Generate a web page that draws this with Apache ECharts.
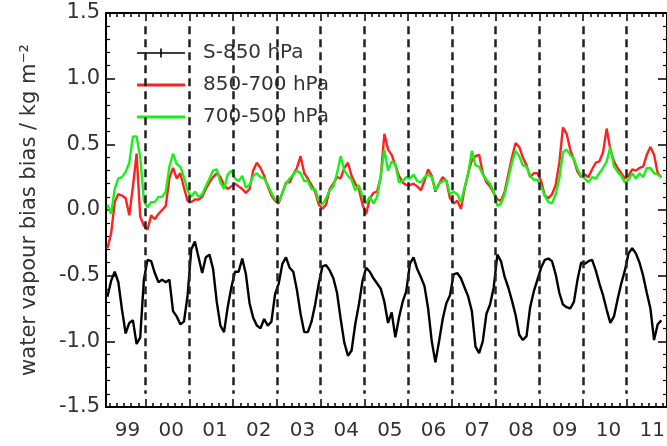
<!DOCTYPE html>
<html>
<head>
<meta charset="utf-8">
<script src="https://cdn.jsdelivr.net/npm/echarts@6/dist/echarts.min.js"></script>
<style>
html, body { margin: 0; background: #fff; }
#chart { width: 667px; height: 446px; }
</style>
</head>
<body>
<div id="chart"></div>
<script>
// x is months since Jan 1999; one sample per month, Feb 1999 .. Oct 2011 (mid-month)
const months = []
for (let m = 1; m <= 153; m++) months.push(m + 0.5)

const yearTicks = [12, 24, 36, 48, 60, 72, 84, 96, 108, 120, 132, 144]
const yearLabelPos = [7, 19, 31, 43, 55, 67, 79, 91, 103, 115, 127, 139, 151]
const yearLabels = ['99', '00', '01', '02', '03', '04', '05', '06', '07', '08', '09', '10', '11']
const minorTicks = []
for (let m = 2; m <= 154; m += 2) minorTicks.push(m)

// S-850 hPa
const s850 = [
  -0.66, -0.54, -0.47, -0.55, -0.76, -0.94, -0.86, -0.84, -1.02, -0.97,
  -0.53, -0.38, -0.39, -0.48, -0.55, -0.53, -0.55, -0.53, -0.77, -0.81,
  -0.87, -0.85, -0.65, -0.30, -0.24, -0.36, -0.48, -0.36, -0.34, -0.45,
  -0.70, -0.88, -0.93, -0.74, -0.59, -0.47, -0.47, -0.37, -0.49, -0.71,
  -0.82, -0.88, -0.90, -0.83, -0.88, -0.85, -0.64, -0.56, -0.41, -0.36,
  -0.44, -0.47, -0.61, -0.79, -0.93, -0.93, -0.85, -0.72, -0.56, -0.43,
  -0.42, -0.46, -0.52, -0.63, -0.83, -1.01, -1.11, -1.07, -0.87, -0.72,
  -0.54, -0.44, -0.47, -0.52, -0.56, -0.60, -0.70, -0.86, -0.78, -0.97,
  -0.82, -0.70, -0.62, -0.41, -0.36, -0.45, -0.51, -0.58, -0.75, -1.00,
  -1.16, -1.00, -0.83, -0.71, -0.65, -0.49, -0.48, -0.52, -0.59, -0.66,
  -0.77, -1.04, -1.09, -1.00, -0.79, -0.72, -0.59, -0.34, -0.39, -0.51,
  -0.59, -0.69, -0.80, -0.95, -0.99, -0.96, -0.74, -0.62, -0.53, -0.44,
  -0.38, -0.37, -0.39, -0.49, -0.63, -0.72, -0.74, -0.75, -0.70, -0.53,
  -0.40, -0.41, -0.39, -0.38, -0.46, -0.56, -0.65, -0.76, -0.86, -0.81,
  -0.68, -0.56, -0.46, -0.33, -0.29, -0.33, -0.40, -0.50, -0.63, -0.75,
  -0.99, -0.87, -0.84
]

// 850-700 hPa
const l850700 = [
  -0.29, -0.18, 0.06, 0.12, 0.11, 0.09, -0.04, 0.18, 0.43, -0.05,
  -0.12, -0.15, -0.04, -0.07, -0.03, 0.00, 0.03, 0.24, 0.32, 0.24,
  0.28, 0.17, 0.07, 0.06, 0.08, 0.08, 0.10, 0.16, 0.21, 0.25,
  0.28, 0.25, 0.19, 0.16, 0.18, 0.20, 0.18, 0.16, 0.13, 0.16,
  0.30, 0.36, 0.32, 0.26, 0.18, 0.11, 0.07, 0.05, 0.13, 0.21,
  0.21, 0.27, 0.32, 0.41, 0.28, 0.24, 0.19, 0.14, 0.04, 0.01,
  0.04, 0.16, 0.20, 0.25, 0.24, 0.32, 0.36, 0.26, 0.20, 0.16,
  0.04, -0.03, 0.09, 0.13, 0.14, 0.25, 0.58, 0.46, 0.42, 0.34,
  0.26, 0.21, 0.19, 0.19, 0.20, 0.18, 0.15, 0.22, 0.31, 0.26,
  0.14, 0.20, 0.25, 0.22, 0.09, 0.05, 0.07, 0.01, 0.16, 0.28,
  0.38, 0.41, 0.42, 0.28, 0.21, 0.18, 0.13, 0.08, 0.07, 0.14,
  0.27, 0.40, 0.51, 0.48, 0.40, 0.34, 0.25, 0.28, 0.28, 0.22,
  0.11, 0.09, 0.12, 0.19, 0.36, 0.63, 0.58, 0.46, 0.38, 0.29,
  0.25, 0.27, 0.25, 0.31, 0.36, 0.37, 0.44, 0.62, 0.46, 0.37,
  0.32, 0.28, 0.24, 0.26, 0.31, 0.30, 0.32, 0.33, 0.42, 0.48,
  0.42, 0.28, 0.25
]

// 700-500 hPa
const l700500 = [
  0.04, -0.03, 0.16, 0.24, 0.25, 0.29, 0.36, 0.56, 0.56, 0.40,
  0.07, 0.02, 0.06, 0.06, 0.10, 0.10, 0.14, 0.33, 0.43, 0.35,
  0.33, 0.25, 0.15, 0.10, 0.14, 0.10, 0.12, 0.18, 0.24, 0.30,
  0.31, 0.21, 0.16, 0.27, 0.30, 0.24, 0.22, 0.26, 0.17, 0.19,
  0.26, 0.28, 0.25, 0.24, 0.19, 0.13, 0.08, 0.06, 0.13, 0.20,
  0.24, 0.27, 0.30, 0.28, 0.22, 0.22, 0.16, 0.16, 0.07, 0.04,
  0.09, 0.15, 0.18, 0.28, 0.41, 0.30, 0.26, 0.23, 0.15, 0.19,
  0.10, 0.05, 0.10, 0.05, 0.10, 0.26, 0.46, 0.30, 0.37, 0.35,
  0.21, 0.22, 0.25, 0.24, 0.27, 0.22, 0.21, 0.25, 0.27, 0.25,
  0.15, 0.20, 0.22, 0.23, 0.12, 0.14, 0.12, 0.06, 0.17, 0.28,
  0.45, 0.34, 0.33, 0.27, 0.23, 0.20, 0.14, 0.03, 0.05, 0.12,
  0.24, 0.36, 0.45, 0.41, 0.34, 0.33, 0.26, 0.23, 0.23, 0.18,
  0.11, 0.06, 0.05, 0.12, 0.24, 0.44, 0.46, 0.42, 0.39, 0.31,
  0.26, 0.24, 0.21, 0.25, 0.24, 0.28, 0.32, 0.37, 0.48, 0.33,
  0.29, 0.26, 0.21, 0.23, 0.28, 0.24, 0.28, 0.25, 0.32, 0.32,
  0.28, 0.27, 0.25
]

const FONT = 'DejaVu Sans'
const TEXT = '#333'
const xMin = 1.106
const xMax = 155.05

// legend icons: a horizontal stroke (black one with a small cross bar); M0,0 and M0,14 keep the box height
const iconLine = 'path://M0,0 L0,0 M0,5.5 L48,5.5 L48,8.5 L0,8.5 Z M0,14 L0,14'
const iconCross = 'path://M0,0 L0,0 M0,6.2 L48,6.2 L48,7.8 L0,7.8 Z M23.2,2.5 L24.8,2.5 L24.8,11.5 L23.2,11.5 Z M0,14 L0,14'

const chart = echarts.init(document.getElementById('chart'))

// x axis pieces: major ticks at year starts, minor every two months, mirrored on top
function xAxisPart (position, ticks, len, withLine, withLabel) {
  return {
    type: 'value',
    min: xMin,
    max: xMax,
    position: position,
    offset: 0,
    axisLine: { show: withLine, onZero: false, lineStyle: { color: '#000', width: 2 } },
    axisTick: {
      show: true,
      inside: true,
      length: len,
      customValues: ticks,
      lineStyle: { color: '#000', width: 1.5 }
    },
    axisLabel: withLabel ? {
      show: true,
      customValues: yearLabelPos,
      formatter: v => yearLabels[yearLabelPos.indexOf(Math.round(v))],
      fontFamily: FONT,
      fontSize: 20,
      color: TEXT,
      margin: 14
    } : { show: false },
    splitLine: { show: false }
  }
}

function yAxisPart (position, withLabel) {
  return {
    type: 'value',
    min: -1.5,
    max: 1.5,
    interval: 0.5,
    position: position,
    name: withLabel ? 'water vapour bias bias / kg m⁻²' : '',
    nameLocation: 'middle',
    nameGap: 66,
    nameTextStyle: { fontFamily: FONT, fontSize: 21, color: TEXT },
    axisLine: { show: true, onZero: false, lineStyle: { color: '#000', width: 2 } },
    axisTick: { show: true, inside: true, length: 9, lineStyle: { color: '#000', width: 1.5 } },
    minorTick: { show: true, splitNumber: 5, length: 4, lineStyle: { color: '#000', width: 1.2 } },
    axisLabel: withLabel ? {
      show: true,
      formatter: v => v.toFixed(1),
      fontFamily: FONT,
      fontSize: 21,
      color: TEXT,
      margin: 6
    } : { show: false },
    splitLine: { show: false },
    minorSplitLine: { show: false }
  }
}

const option = {
  backgroundColor: '#fff',
  animation: false,
  grid: { left: 106, right: 0, top: 13, bottom: 39, containLabel: false, outerBoundsMode: 'none' },
  legend: {
    orient: 'vertical',
    left: 132,
    top: 38,
    itemWidth: 48,
    itemHeight: 14,
    itemGap: 12,
    textStyle: { fontFamily: FONT, fontSize: 20, color: TEXT, padding: [0, 0, 0, 13] },
    data: [
      { name: 'S-850 hPa', icon: iconCross },
      { name: '850-700 hPa', icon: iconLine },
      { name: '700-500 hPa', icon: iconLine }
    ]
  },
  xAxis: [
    xAxisPart('bottom', yearTicks, 8, true, true),
    xAxisPart('bottom', minorTicks, 4, false, false),
    xAxisPart('top', yearTicks, 8, true, false),
    xAxisPart('top', minorTicks, 4, false, false)
  ],
  yAxis: [yAxisPart('left', true), yAxisPart('right', false)],
  series: [
    {
      name: 'S-850 hPa',
      type: 'line',
      data: months.map((t, i) => [t, s850[i]]),
      symbol: 'none',
      lineStyle: { color: '#000', width: 2.4 },
      itemStyle: { color: '#000' },
      markLine: {
        silent: true,
        symbol: ['none', 'none'],
        label: { show: false },
        lineStyle: { color: '#222', width: 2.5, type: [8, 5] },
        data: yearTicks.map(t => [{ coord: [t, 1.4] }, { coord: [t, -1.4] }])
      }
    },
    {
      name: '850-700 hPa',
      type: 'line',
      data: months.map((t, i) => [t, l850700[i]]),
      symbol: 'none',
      lineStyle: { color: '#ff2020', width: 2.4 },
      itemStyle: { color: '#ff2020' }
    },
    {
      name: '700-500 hPa',
      type: 'line',
      data: months.map((t, i) => [t, l700500[i]]),
      symbol: 'none',
      lineStyle: { color: '#18f018', width: 2.4 },
      itemStyle: { color: '#18f018' }
    }
  ]
}

chart.setOption(option)
</script>
</body>
</html>
